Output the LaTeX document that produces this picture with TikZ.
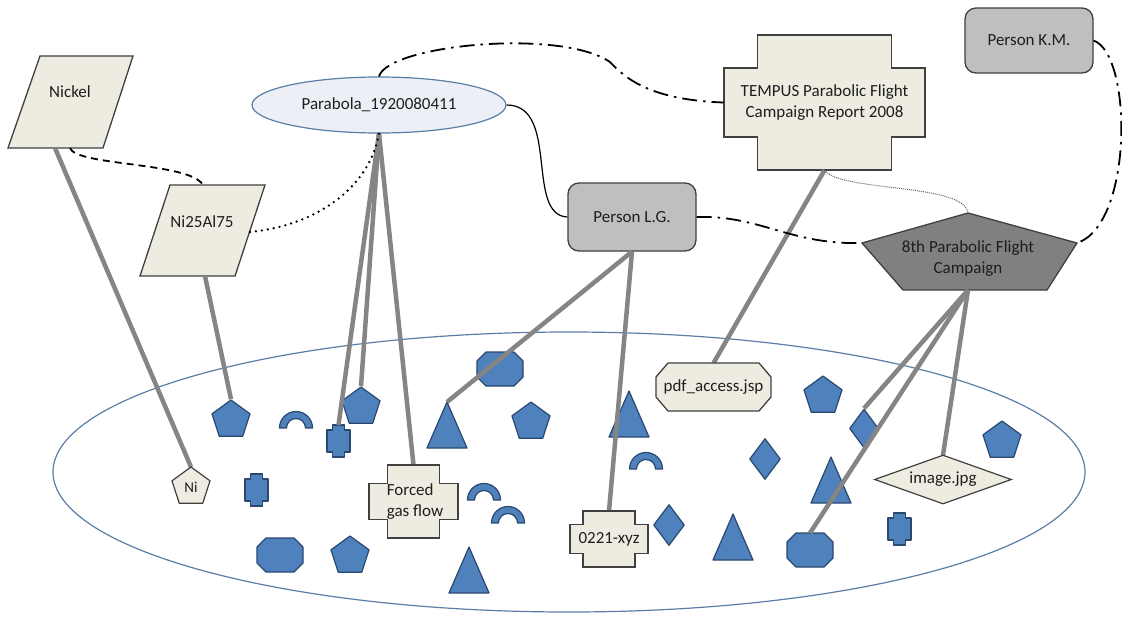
\documentclass[tikz,border=0pt]{standalone}
\usepackage{fontspec}
\setmainfont{Carlito}
\usetikzlibrary{shapes.geometric}
\definecolor{beige}{HTML}{EEECE1}
\definecolor{edgec}{HTML}{404040}
\definecolor{pgray}{HTML}{BFBFBF}
\definecolor{cgray}{HTML}{808080}
\definecolor{bluef}{HTML}{4F81BD}
\definecolor{blued}{HTML}{2A4870}
\definecolor{ringc}{HTML}{5B7EA6}
\definecolor{parf}{HTML}{ECF0F6}
\definecolor{linkg}{HTML}{858585}
\definecolor{txt}{HTML}{1E1E1E}

\newcommand{\tri}[3]{%
  \path[blueshape] (#2,#3) -- (#2+20,#3+46) -- (#2-20,#3+46) -- cycle;
  \coordinate (#1) at (#2,#3);}
\newcommand{\octa}[3]{%
  \path[blueshape] (#2-23,#3-8) -- (#2-14,#3-17) -- (#2+14,#3-17) -- (#2+23,#3-8) -- (#2+23,#3+8) -- (#2+14,#3+17) -- (#2-14,#3+17) -- (#2-23,#3+8) -- cycle;
  \coordinate (#1) at (#2,#3-17);}
\newcommand{\scross}[3]{%
  \path[blueshape] (#2-6,#3-16) -- (#2+6,#3-16) -- (#2+6,#3-11) -- (#2+11.5,#3-11) -- (#2+11.5,#3+11) -- (#2+6,#3+11) -- (#2+6,#3+16) -- (#2-6,#3+16) -- (#2-6,#3+11) -- (#2-11.5,#3+11) -- (#2-11.5,#3-11) -- (#2-6,#3-11) -- cycle;
  \coordinate (#1) at (#2,#3-16);}
\newcommand{\hring}[2]{%
  \path[blueshape] (#1-16.5,#2) arc[start angle=180,end angle=0,radius=16.5pt] -- (#1+9.5,#2) arc[start angle=0,end angle=180,radius=9.5pt] -- cycle;}
\newcommand{\bigcross}[6]{%
  \path[lbl] (#1-#5,#2-#4) -- (#1+#5,#2-#4) -- (#1+#5,#2-#6) -- (#1+#3,#2-#6) -- (#1+#3,#2+#6) -- (#1+#5,#2+#6) -- (#1+#5,#2+#4) -- (#1-#5,#2+#4) -- (#1-#5,#2+#6) -- (#1-#3,#2+#6) -- (#1-#3,#2-#6) -- (#1-#5,#2-#6) -- cycle;}

\begin{document}
\begin{tikzpicture}[x=1pt,y=-1pt,
  font=\fontsize{17}{21}\selectfont, text=txt,
  blueshape/.style={fill=bluef, draw=blued, line width=1.2pt, line join=round},
  bpent/.style={blueshape, regular polygon, regular polygon sides=5, minimum size=40pt, inner sep=0pt},
  bdiam/.style={blueshape, diamond, minimum width=31pt, minimum height=41pt, inner sep=0pt},
  lbl/.style={fill=beige, draw=edgec, line width=1.3pt, line join=miter},
  person/.style={rectangle, rounded corners=11pt, fill=pgray, draw=edgec, line width=1.3pt, minimum width=128pt, inner sep=0pt},
  thicklink/.style={draw=linkg, line width=4.5pt},
  dashdot/.style={draw=black, line width=1.8pt, dash pattern=on 15pt off 6pt on 2.5pt off 6pt},
  txtonly/.style={inner sep=0pt, align=center}]
\useasboundingbox (0,0) rectangle (1122,622);
\fill[white] (0,0) rectangle (1122,622);

% big ellipse
\draw[ringc, line width=1.2pt] (569,472) ellipse [x radius=516pt, y radius=140pt];

% blue shapes
\node[bpent] (p1) at (231,420) {};
\hring{296}{428}
\scross{c3}{338.5}{441}
\node[bpent] (p4) at (361,407) {};
\scross{c5}{256.5}{490}
\octa{o6}{280}{555}
\node[bpent] (p7) at (350,556) {};
\tri{t8}{469}{547}
\tri{t9}{447}{402}
\hring{484}{500}
\hring{508}{523}
\octa{o11}{500}{369}
\node[bpent] (p12) at (531,422) {};
\tri{t13}{629}{391}
\hring{646}{469}
\node[bdiam] (d15) at (669,525) {};
\tri{t16}{733}{514}
\octa{o17}{810}{550}
\node[bdiam] (d18) at (765,459) {};
\node[bpent] (p19) at (823,396) {};
\node[bdiam, minimum width=29pt, minimum height=39pt] (d20) at (864,428.5) {};
\tri{t21}{831}{457}
\scross{c22}{899.5}{529}
\node[bpent] (p23) at (1002,441) {};

% label shapes (paths) and their names
\path[lbl] (40,56) -- (133,56) -- (103,148) -- (8,148) -- cycle;
\node[txtonly] (nickel) at (70,92) {Nickel};
\coordinate (nickel-b1) at (55,148);
\coordinate (nickel-b2) at (70,148);

\path[lbl] (170,185) -- (265,185) -- (235,276) -- (140,276) -- cycle;
\node[txtonly] (nial) at (202,222) {Ni25Al75};
\coordinate (nial-t) at (203,185);
\coordinate (nial-r) at (250,232);
\coordinate (nial-b) at (205,276);

\node[ellipse, fill=parf, draw=ringc, line width=1.2pt, minimum width=254pt, minimum height=56pt, inner sep=0pt] (parabola) at (379,105) {Parabola\_1920080411};

\bigcross{824.5}{102.5}{100.5}{67.5}{67}{34.5}
\node[txtonly, minimum width=201pt, minimum height=135pt] (tempus) at (824.5,102.5) {TEMPUS Parabolic Flight\\Campaign Report 2008};

\node[person, minimum height=68pt] (lg) at (632,217) {Person L.G.};
\node[person, minimum height=65pt] (km) at (1029,40.5) {Person K.M.};

\path[lbl, fill=cgray] (968,213) -- (1077,243) -- (1047,290) -- (903,290) -- (862,243) -- cycle;
\node[txtonly] (camp) at (968,259) {8th Parabolic Flight\\Campaign};
\coordinate (camp-t) at (968,213);
\coordinate (camp-l) at (862,243);
\coordinate (camp-r) at (1077,243);
\coordinate (camp-b) at (968,290);

% thick links
\draw[thicklink] (nickel-b1) -- (191,467) coordinate (ni-top);
\draw[thicklink] (nial-b) -- (p1.north);
\draw[thicklink] (parabola.south) -- (c3);
\draw[thicklink] (parabola.south) -- (p4.north);
\draw[thicklink] (parabola.south) -- (413.5,465) coordinate (forced-top);
\draw[thicklink] (lg.south) -- (t9);
\draw[thicklink] (lg.south) -- (609,511) coordinate (xyz-top);
\draw[thicklink] (tempus.south) -- (713.5,363) coordinate (pdf-top);
\draw[thicklink] (camp-b) -- (d20.north);
\draw[thicklink] (camp-b) -- (o17);
\draw[thicklink] (camp-b) -- (943,455) coordinate (img-top);

% labelled nodes inside the ellipse
\node[regular polygon, regular polygon sides=5, minimum size=40pt, inner sep=0pt, fill=beige, draw=edgec, line width=1.2pt, font=\fontsize{15}{17}\selectfont] (ni) at (191,487) {Ni};

\bigcross{413.5}{501.5}{44.5}{36.5}{26}{18}
\node[inner sep=0pt, align=left, minimum width=89pt, minimum height=73pt] (forced) at (415,501.5) {Forced\\gas flow};

\bigcross{609}{539}{39}{28}{26}{14.5}
\node[txtonly, minimum width=78pt, minimum height=56pt] (xyz) at (609,539) {0221-xyz};

\path[lbl] (656,377) -- (668,363) -- (759,363) -- (771,377) -- (771,397) -- (759,411) -- (668,411) -- (656,397) -- cycle;
\node[txtonly, minimum width=115pt, minimum height=48pt] (pdf) at (713.5,387) {pdf\_access.jsp};

\node[diamond, shape aspect=2.8, fill=beige, draw=edgec, line width=1.2pt, minimum width=137pt, minimum height=49pt, inner sep=0pt] (img) at (943,479.5) {image.jpg};

% thin connectors
\draw[black, line width=1.8pt, dash pattern=on 7pt off 5pt] (nickel-b2) .. controls (76,166) and (190,162) .. (nial-t);
\draw[black, line width=2.6pt, line cap=round, dash pattern=on 0pt off 6pt] (nial-r) .. controls (320,225) and (370,185) .. (parabola.south);
\draw[black, line width=1.2pt] (parabola.east) .. controls (560,105) and (525,215) .. (lg.west);
\draw[dashdot] (parabola.north) .. controls (388,45) and (560,28) .. (610,62) .. controls (625,78) and (650,100) .. (tempus.west);
\draw[dashdot] (lg.east) .. controls (760,215) and (790,245) .. (camp-l);
\draw[dashdot] (km.east) .. controls (1133,55) and (1133,225) .. (camp-r);
\draw[black!60, line width=1pt, dash pattern=on 1pt off 1pt] (tempus.south) .. controls (840,192) and (965,183) .. (camp-t);
\end{tikzpicture}
\end{document}
